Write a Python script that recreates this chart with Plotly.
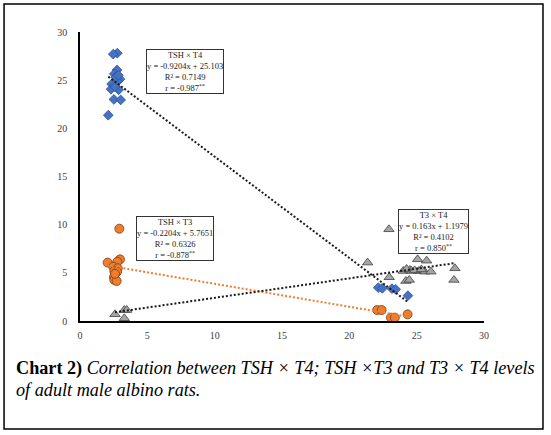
import numpy as np
import plotly.graph_objects as go

# ---- data ----
tsh_t4_x = [2.77, 2.47, 2.75, 2.55, 2.97, 2.77, 2.35, 2.30, 2.87, 2.52, 3.02, 2.10, 2.65, 2.85, 2.60,
            22.15, 22.45, 23.16, 23.44, 24.35]
tsh_t4_y = [27.8, 27.7, 26.06, 25.65, 25.1, 24.9, 24.6, 24.06, 24.0, 23.0, 22.95, 21.36, 25.3, 25.5, 24.3,
            3.46, 3.39, 3.36, 3.29, 2.63]

tsh_t3_x = [2.92, 2.05, 2.97, 2.77, 2.47, 2.80, 2.55, 2.75, 2.52, 2.55, 2.72, 2.60,
            22.07, 22.40, 23.09, 23.38, 24.33]
tsh_t3_y = [9.58, 6.06, 6.40, 6.16, 5.64, 5.47, 5.19, 5.10, 4.54, 4.26, 4.15, 4.90,
            1.14, 1.14, 0.35, 0.35, 0.69]

t3_t4_x = [2.60, 3.29, 3.47, 3.29,
           21.36, 22.94, 22.96, 24.00, 24.20, 24.45, 24.50, 24.62, 25.07, 25.74, 25.17, 25.60, 26.06,
           27.84, 27.77, 24.25, 24.85, 25.35]
t3_t4_y = [0.70, 1.14, 1.14, 0.28,
           6.06, 9.52, 4.54, 5.19, 4.15, 4.26, 5.30, 5.19, 6.40, 6.26, 5.19, 5.12, 5.12,
           5.47, 4.26, 5.40, 5.25, 5.35]

tick_vals = [0, 5, 10, 15, 20, 25, 30]

box_texts = {
    "t4": "TSH × T4<br>y = -0.9204x + 25.103<br>R² = 0.7149<br>r = -0.987<sup>**</sup>",
    "t3": "TSH × T3<br>y = -0.2204x + 5.7651<br>R² = 0.6326<br>r = -0.878<sup>**</sup>",
    "t3t4": "T3 × T4<br>y = 0.163x + 1.1979<br>R² = 0.4102<br>r = 0.850<sup>**</sup>",
}

SERIF = "Liberation Serif, Times New Roman, serif"

def trend(xs, ys):
    xs = np.asarray(xs); ys = np.asarray(ys)
    m, b = np.polyfit(xs, ys, 1)
    xx = np.array([xs.min(), xs.max()])
    return xx, m * xx + b

fig = go.Figure()

fig.add_trace(go.Scatter(x=tsh_t4_x, y=tsh_t4_y, mode="markers",
                         marker=dict(symbol="diamond", size=7.5, color="#4472C4",
                                     line=dict(color="#2F528F", width=0.8))))
fig.add_trace(go.Scatter(x=tsh_t3_x, y=tsh_t3_y, mode="markers",
                         marker=dict(symbol="circle", size=9, color="#ED7D31",
                                     line=dict(color="#7F3F10", width=0.8))))
fig.add_trace(go.Scatter(x=t3_t4_x, y=t3_t4_y, mode="markers",
                         marker=dict(symbol="triangle-up", size=9, color="#A5A5A5",
                                     line=dict(color="#404040", width=0.8))))

for xs, ys, col in [(tsh_t4_x, tsh_t4_y, "#1a1a1a"), (tsh_t3_x, tsh_t3_y, "#ED7D31"),
                    (t3_t4_x, t3_t4_y, "#1a1a1a")]:
    tx, ty = trend(xs, ys)
    fig.add_trace(go.Scatter(x=tx, y=ty, mode="lines",
                             line=dict(color=col, width=2, dash="2px,2px")))

def box(text, x, y):
    fig.add_annotation(x=x, y=y, xref="x", yref="y", text=text, showarrow=False,
                       font=dict(family=SERIF, size=8.5, color="#222"),
                       bordercolor="#333", borderwidth=1, borderpad=0, bgcolor="white",
                       align="center")

box(box_texts["t4"], 7.83, 25.9)
box(box_texts["t3"], 7.02, 8.57)
box(box_texts["t3t4"], 26.28, 9.24)

# caption
fig.add_annotation(xref="paper", yref="paper", x=-0.163, y=-0.166, xanchor="left", yanchor="middle",
                   text="<b>Chart 2)</b> <i>Correlation between TSH × T4; TSH ×T3 and T3 × T4 levels</i>",
                   showarrow=False, font=dict(family=SERIF, size=18.2, color="black"))
fig.add_annotation(xref="paper", yref="paper", x=-0.163, y=-0.24, xanchor="left", yanchor="middle",
                   text="<i>of adult male albino rats.</i>",
                   showarrow=False, font=dict(family=SERIF, size=18.2, color="black"))

# outer frame
fig.add_shape(type="rect", xref="paper", yref="paper", x0=-0.188, x1=1.146, y0=-0.3737, y1=1.0969,
              line=dict(color="black", width=1.5), fillcolor="rgba(0,0,0,0)")

axis_common = dict(range=[0, 30], tickvals=tick_vals, showgrid=False, zeroline=False,
                   showline=True, linecolor="black", linewidth=1.5, ticks="",
                   tickfont=dict(family=SERIF, size=10, color="#404040"))
fig.update_xaxes(**axis_common, ticklabelstandoff=4)
fig.update_yaxes(**axis_common, ticklabelstandoff=9)

fig.update_layout(width=551, height=435, autosize=False, showlegend=False,
                  margin=dict(l=80, r=67, t=32, b=114),
                  paper_bgcolor="white", plot_bgcolor="white")

fig.write_html("out.html", config={"displayModeBar": False},
               post_script="document.body.style.margin='0px';document.body.style.overflow='hidden';")
